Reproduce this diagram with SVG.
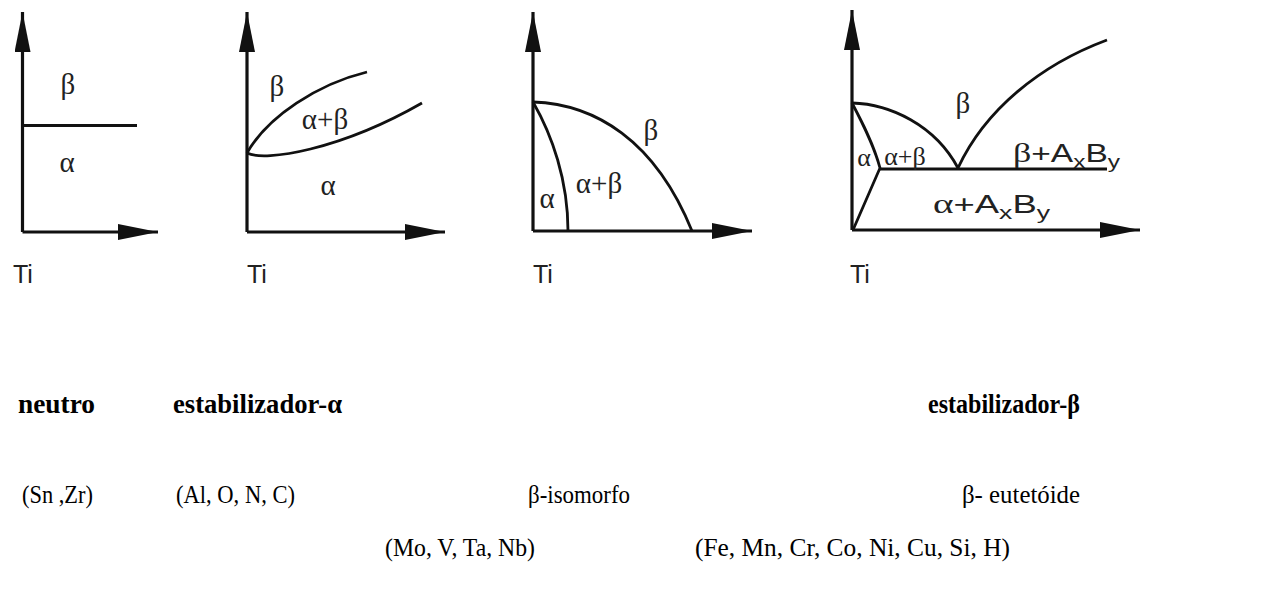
<svg xmlns="http://www.w3.org/2000/svg" width="1288" height="601" viewBox="0 0 1288 601">
<style>
.ax{stroke:#111;stroke-width:3.2;fill:none}
.ln{stroke:#111;stroke-width:2.8;fill:none}
.gr{font-family:"Liberation Serif","DejaVu Serif",serif;font-size:29px;fill:#222;text-anchor:middle}
.gs{font-family:"Liberation Serif","DejaVu Serif",serif;font-size:28px}
.ti{font-family:"Liberation Sans",Arial,sans-serif;font-size:25px;fill:#222}
.ab{font-family:"Liberation Sans",Arial,sans-serif;font-size:26px;fill:#222}
.h{font-family:"Liberation Serif","Times New Roman",serif;font-size:28px;font-weight:bold;fill:#000}
.t{font-family:"Liberation Serif","Times New Roman",serif;font-size:26px;fill:#000}
</style>
<defs>
<marker id="ah" markerUnits="userSpaceOnUse" markerWidth="42" markerHeight="18" refX="40" refY="8" orient="auto"><path d="M0,0 L40,8 L0,16 Z" fill="#111"/></marker>
</defs>
<g id="connectors">
<path class="ax" d="M22.5,232 V12" marker-end="url(#ah)"/>
<path class="ax" d="M22.5,232 H158" marker-end="url(#ah)"/>
<path class="ax" d="M247,232 V12" marker-end="url(#ah)"/>
<path class="ax" d="M247,232 H445" marker-end="url(#ah)"/>
<path class="ax" d="M533,231 V12" marker-end="url(#ah)"/>
<path class="ax" d="M533,231 H752" marker-end="url(#ah)"/>
<path class="ax" d="M852,230 V10" marker-end="url(#ah)"/>
<path class="ax" d="M852,230 H1140" marker-end="url(#ah)"/>
</g>
<g id="neutral">
<path class="ln" d="M22.5,125.5 H137"/>
<text class="gr" x="68" y="94">β</text>
<text class="gr" x="67" y="172">α</text>
<text class="ti" x="13" y="283">Ti</text>
</g>
<g id="alpha-stab">
<path class="ln" d="M247,153 C268,116 318,84 367,72"/>
<path class="ln" d="M247,153 C265,162 340,150 422,103"/>
<text class="gr" x="277" y="96">β</text>
<text class="gr" x="325" y="129">α+β</text>
<text class="gr" x="328" y="195">α</text>
<text class="ti" x="247" y="283">Ti</text>
</g>
<g id="beta-iso">
<path class="ln" d="M533,102 C595,104 655,140 692,231"/>
<path class="ln" d="M533,102 C552,135 568,180 568,231"/>
<text class="gr" x="547" y="208">α</text>
<text class="gr" x="599" y="193">α+β</text>
<text class="gr" x="651" y="140">β</text>
<text class="ti" x="533" y="283">Ti</text>
</g>
<g id="beta-eut">
<path class="ln" d="M852,103 C890,104 935,125 958,168"/>
<path class="ln" d="M958,168 C985,110 1040,65 1107,40"/>
<path class="ln" d="M852,103 C862,122 874,145 880,168 L853,230"/>
<path class="ln" d="M880,169 H1107"/>
<text class="gr" x="864" y="166" style="font-size:26px">α</text>
<text class="gr" x="905" y="165" style="font-size:26px">α+β</text>
<text class="gr" x="963" y="113">β</text>
<text class="ab" x="1013" y="162" textLength="107" lengthAdjust="spacingAndGlyphs"><tspan class="gs">β</tspan>+A<tspan font-size="19" dy="6">x</tspan><tspan dy="-6">B</tspan><tspan font-size="19" dy="6">y</tspan></text>
<text class="ab" x="933" y="213" textLength="117" lengthAdjust="spacingAndGlyphs"><tspan class="gs">α</tspan>+A<tspan font-size="19" dy="6">x</tspan><tspan dy="-6">B</tspan><tspan font-size="19" dy="6">y</tspan></text>
<text class="ti" x="850" y="283">Ti</text>
</g>
<g id="labels">
<text class="h" x="18" y="413" textLength="77" lengthAdjust="spacingAndGlyphs">neutro</text>
<text class="h" x="173" y="413" textLength="169" lengthAdjust="spacingAndGlyphs">estabilizador-α</text>
<text class="h" x="928" y="413" textLength="152" lengthAdjust="spacingAndGlyphs">estabilizador-β</text>
<text class="t" x="22" y="503" textLength="71" lengthAdjust="spacingAndGlyphs">(Sn ,Zr)</text>
<text class="t" x="176" y="503" textLength="119" lengthAdjust="spacingAndGlyphs">(Al, O, N, C)</text>
<text class="t" x="528" y="503" textLength="102" lengthAdjust="spacingAndGlyphs">β-isomorfo</text>
<text class="t" x="962" y="503" textLength="118" lengthAdjust="spacingAndGlyphs">β- eutet&#243;ide</text>
<text class="t" x="385" y="556" textLength="150" lengthAdjust="spacingAndGlyphs">(Mo, V, Ta, Nb)</text>
<text class="t" x="695" y="556" textLength="315" lengthAdjust="spacingAndGlyphs">(Fe, Mn, Cr, Co, Ni, Cu, Si, H)</text>
</g>
</svg>
